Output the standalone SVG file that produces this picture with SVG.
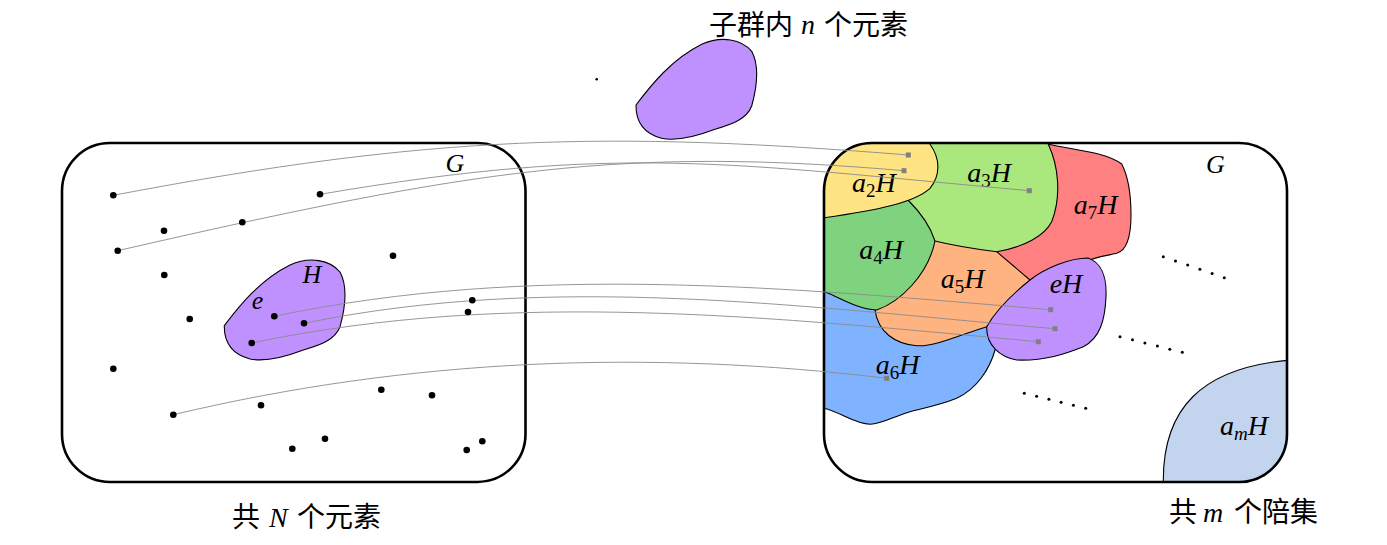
<svg xmlns="http://www.w3.org/2000/svg" width="1387" height="545" viewBox="0 0 1387 545">
<style>
.box{fill:none;stroke:#000;stroke-width:2.6}
.reg{stroke:#000;stroke-width:1.1;stroke-linejoin:round}
.ln{fill:none;stroke:#8a8a8a;stroke-width:0.9}
.sq{fill:#808080}
.dot{fill:#000}
.m{font-family:"Liberation Serif",serif;font-style:italic;font-size:28px;fill:#000}
.g{font-size:26px}
.sub{font-style:normal;font-size:19px}
.subi{font-style:italic;font-size:19px}
.cjk{font-family:"Noto Sans CJK SC",sans-serif;font-size:28px;fill:#000}
.mi{font-family:"Liberation Serif",serif;font-style:italic}
.purple{fill:#BF91FF;stroke:#000;stroke-width:1.1}
</style>
<defs>
<clipPath id="rc"><rect x="824" y="143" width="463" height="339" rx="48"/></clipPath>
<path id="blob" d="M224.3,325.7 C240,305 260,280 290,265 C310,256 330,260 340,272 C347,285 346,305 340,326.7 C335,340 320,345 303.3,350 C285,357 265,362 250,359 C235,355 224,345 224.3,325.7 Z"/>
</defs>
<rect width="1387" height="545" fill="#fff"/>

<g id="top-subgroup">
<use href="#blob" class="purple" transform="translate(411.7,-220.7)"/>
<circle cx="596.7" cy="79.3" r="1.3" class="dot"/>
<text class="cjk" y="35"><tspan x="709">子群内</tspan><tspan x="801" y="34" class="mi">n</tspan><tspan x="824" y="35">个元素</tspan></text>
</g>

<g id="left-G">
<rect x="62" y="143" width="463.5" height="339" rx="48" class="box"/>
<text class="m g" x="455" y="171.7" text-anchor="middle">G</text>
<text class="cjk" y="526.5"><tspan x="232">共</tspan><tspan x="269" class="mi">N</tspan><tspan x="297">个元素</tspan></text>
</g>

<g id="H-subgroup">
<use href="#blob" class="purple"/>
<text class="m g" x="312" y="283.3" text-anchor="middle">H</text>
<text class="m g" x="257.5" y="308.5" text-anchor="middle">e</text>
</g>

<g id="right-G">
<g clip-path="url(#rc)">
<g id="coset-a6H"><path class="reg" fill="#80B3FF" d="M818,285 L1000,300 L1002,338 L995.2,349.5 C990,368 978,388 956.7,398.3 C940,405 925,408 910,411.7 C895,416 882,424 870,424.3 C855,424 840,412 824,408.3 L818,407 Z"/></g>
<g id="coset-a7H"><path class="reg" fill="#FF8080" d="M1040,140 L1048.3,144.3 C1075,150 1105,152 1121.7,164 C1130,180 1131,200 1131,215 C1131,235 1128,250 1116.7,253.3 C1105,256 1095,257 1085,262 L1060,300 L990,275 L990,200 L1030,140 Z"/></g>
<g id="coset-a5H"><path class="reg" fill="#FFB380" d="M996.7,251.7 L1030,280 L1040,300 L1000,330 L986.7,326.7 C965,333 935,347 916.7,345.7 C895,344 878,332 875,310 L870,290 L930,235 L990,245 Z"/></g>
<g id="coset-a4H"><path class="reg" fill="#7FD37F" d="M818,290 L824,291.7 C838,296 855,309 876.7,310 C900,302 928,275 935,241 L928,195 L818,195 Z"/></g>
<g id="coset-a3H"><path class="reg" fill="#AAE77C" d="M1048.3,140 L1048.3,144.3 C1058,165 1062,195 1051.7,221.7 C1045,235 1025,247 996.7,251.7 C975,249 955,246 935,241 C930,225 920,212 908,200 L890,190 L890,140 Z"/></g>
<g id="coset-a2H"><path class="reg" fill="#FFE483" d="M930,140 L930,144.3 C940,158 941,175 930,188.3 C915,202 880,210 824,217.7 L818,218 L818,140 Z"/></g>
<g id="coset-eH"><path class="reg" fill="#BF91FF" d="M1030,280 C1045,268 1070,258 1088,258 C1100,262 1107,275 1106,296.7 C1105,320 1100,338 1083.3,346.7 C1065,354 1045,361 1016.7,360 C1000,357 986,345 986.7,326.7 C995,312 1010,296 1030,280 Z"/></g>
<g id="coset-amH"><path class="reg" fill="#C2D4EE" d="M1163.3,490 L1163.3,481 C1163,410 1200,367 1292,360 L1295,490 Z"/></g>
</g>
<rect x="824" y="143" width="463" height="339" rx="48" class="box"/>
<g id="coset-labels">
<text class="m" x="873.9" y="191.7" text-anchor="middle">a<tspan class="sub" dy="5">2</tspan><tspan dy="-5">H</tspan></text>
<text class="m" x="989" y="182" text-anchor="middle">a<tspan class="sub" dy="5">3</tspan><tspan dy="-5">H</tspan></text>
<text class="m" x="1095.5" y="214" text-anchor="middle">a<tspan class="sub" dy="5">7</tspan><tspan dy="-5">H</tspan></text>
<text class="m" x="881" y="259" text-anchor="middle">a<tspan class="sub" dy="5">4</tspan><tspan dy="-5">H</tspan></text>
<text class="m" x="962.5" y="287.7" text-anchor="middle">a<tspan class="sub" dy="5">5</tspan><tspan dy="-5">H</tspan></text>
<text class="m" x="1066" y="293.3" text-anchor="middle">eH</text>
<text class="m" x="897.5" y="374.3" text-anchor="middle">a<tspan class="sub" dy="5">6</tspan><tspan dy="-5">H</tspan></text>
<text class="m" x="1244" y="435" text-anchor="middle">a<tspan class="subi" dy="5">m</tspan><tspan dy="-5">H</tspan></text>
</g>
<text class="m g" x="1215.5" y="172.7" text-anchor="middle">G</text>
<g id="ellipsis-dots" class="dot">
<circle cx="1163.3" cy="256.7" r="1.5"/><circle cx="1175.5" cy="260.9" r="1.5"/><circle cx="1187.7" cy="265.1" r="1.5"/><circle cx="1199.9" cy="269.3" r="1.5"/><circle cx="1212.1" cy="273.5" r="1.5"/><circle cx="1224.3" cy="277.7" r="1.5"/>
<circle cx="1120" cy="336.7" r="1.5"/><circle cx="1132.5" cy="339.8" r="1.5"/><circle cx="1144.9" cy="342.9" r="1.5"/><circle cx="1157.4" cy="346.1" r="1.5"/><circle cx="1169.8" cy="349.2" r="1.5"/><circle cx="1182.3" cy="352.3" r="1.5"/>
<circle cx="1024.3" cy="393.3" r="1.5"/><circle cx="1036.6" cy="396.3" r="1.5"/><circle cx="1048.9" cy="399.3" r="1.5"/><circle cx="1061.1" cy="402.3" r="1.5"/><circle cx="1073.4" cy="405.3" r="1.5"/><circle cx="1085.7" cy="408.3" r="1.5"/>
</g>
<text class="cjk" y="521.5"><tspan x="1169">共</tspan><tspan x="1203" class="mi">m</tspan><tspan x="1234">个陪集</tspan></text>
</g>

<g id="connectors">
<path class="ln" d="M113.3,195.3 C433.3,134.5 608.3,131 908.3,155"/>
<path class="ln" d="M320,194.3 C620,143.3 729.3,163.7 1029.3,190.7"/>
<path class="ln" d="M117.7,250.7 C477.7,167.9 624,146.6 904,170.7"/>
<path class="ln" d="M274.3,316.3 C533.1,262 791.9,288.4 1050.7,309.7"/>
<path class="ln" d="M304,323.3 C554.3,271.8 804.7,307.4 1055,328.7"/>
<path class="ln" d="M251.7,343 C513.9,288 776.1,318 1038.3,341.7"/>
<path class="ln" d="M173.3,414.7 C411.1,358.1 648.9,349.5 886.7,378.3"/>
<g class="sq">
<rect x="905.8" y="152.5" width="5" height="5"/>
<rect x="901.5" y="168.2" width="5" height="5"/>
<rect x="1026.8" y="188.2" width="5" height="5"/>
<rect x="1048.2" y="307.2" width="5" height="5"/>
<rect x="1052.5" y="326.2" width="5" height="5"/>
<rect x="1035.8" y="339.2" width="5" height="5"/>
<rect x="884.2" y="375.8" width="5" height="5"/>
</g>
</g>

<g id="elements" class="dot">
<circle cx="113.3" cy="195.3" r="3.3"/><circle cx="320" cy="194.3" r="3.3"/><circle cx="164" cy="230.7" r="3.3"/><circle cx="242.3" cy="222.3" r="3.3"/>
<circle cx="117.7" cy="250.7" r="3.3"/><circle cx="164.3" cy="275" r="3.3"/><circle cx="393" cy="255.7" r="3.3"/><circle cx="472.3" cy="300.3" r="3.3"/>
<circle cx="468" cy="312" r="3.3"/><circle cx="189.7" cy="319" r="3.3"/><circle cx="274.3" cy="316.3" r="3.3"/><circle cx="304" cy="323.3" r="3.3"/>
<circle cx="251.7" cy="343" r="3.3"/><circle cx="113.3" cy="368.7" r="3.3"/><circle cx="381.3" cy="389.7" r="3.3"/><circle cx="432" cy="395.3" r="3.3"/>
<circle cx="261" cy="405.3" r="3.3"/><circle cx="173.3" cy="414.7" r="3.3"/><circle cx="325" cy="438.7" r="3.3"/><circle cx="292.3" cy="448.7" r="3.3"/>
<circle cx="482.3" cy="441.3" r="3.3"/><circle cx="466.7" cy="450" r="3.3"/>
</g>
</svg>
